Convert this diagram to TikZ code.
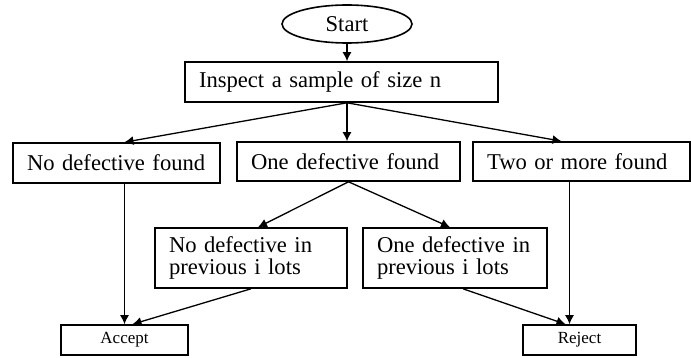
\documentclass[tikz,border=0pt]{standalone}
\usepackage{fontspec}
\setmainfont{Liberation Serif}
\usepackage{tikz}
\usetikzlibrary{arrows,arrows.meta,shapes,positioning,calc}
\newcommand{\boxfont}{\fontsize{11.3pt}{11pt}\selectfont}
\newcommand{\decisionfont}{\fontsize{8.5pt}{10pt}\selectfont}
\tikzstyle{arrow} = [line width=0.65pt,->,>={Latex[length=4.5pt,width=4.5pt]}]
\tikzstyle{flowbox} = [rectangle, draw, line width=0.8pt, inner xsep=7pt, align=left, minimum height=20pt, font=\boxfont]
\tikzstyle{endbox} = [rectangle, draw, line width=0.8pt, minimum height=15pt, font=\decisionfont]

\begin{document}
\begin{tikzpicture}[x=0.5pt, y=-0.5pt]
\useasboundingbox (0,0) rectangle (691,358);
% Start and sample
\node[ellipse, draw, line width=0.8pt, minimum width=65pt, minimum height=19pt, inner sep=0pt, font=\boxfont] (start) at (347,24) {Start};
\node[flowbox, text width=142.5pt] (inspect) at (341.5,82) {Inspect a sample of size n};

% First outcome
\node[flowbox, text width=89.5pt] (nodef) at (116.5,163) {No defective found};
\node[flowbox, text width=97.5pt, minimum height=19.5pt] (onedef) at (348.5,161.5) {One defective found};
\node[flowbox, text width=94.5pt, minimum height=19.5pt] (two) at (581.5,161.5) {Two or more found};

% Previous lots
\node[flowbox, text width=82pt, minimum height=30pt] (noprev) at (251,258) {No defective in\\previous i lots};
\node[flowbox, text width=78pt, minimum height=30pt] (oneprev) at (455,258) {One defective in\\previous i lots};

% Decision
\node[endbox, minimum width=63.5pt] (accept) at (124.5,340) {Accept};
\node[endbox, minimum width=56.5pt] (reject) at (579.5,340) {Reject};

% Arrows
\coordinate (fork) at (inspect.south -| start.south);
\draw[arrow] (start.south) -- (start.south |- inspect.north);
\draw[arrow] (fork) -- ([xshift=4pt]nodef.north);
\draw[arrow] (fork) -- (fork |- onedef.north);
\draw[arrow] (fork) -- ([xshift=-10pt]two.north);
\draw[arrow] (onedef.south) -- ([xshift=3.5pt]noprev.north);
\draw[arrow] (onedef.south) -- ([xshift=-2.5pt]oneprev.north);
\draw[arrow] (accept.north |- nodef.south) -- (accept.north);
\draw[arrow] (noprev.south) -- ([xshift=4pt]accept.north);
\draw[arrow] ([xshift=4pt]oneprev.south) -- ([xshift=-7pt]reject.north);
\draw[arrow] ($(reject.north |- two.south)+(-5pt,0)$) -- ($(reject.north)+(-5pt,0)$);
\end{tikzpicture}
\end{document}
